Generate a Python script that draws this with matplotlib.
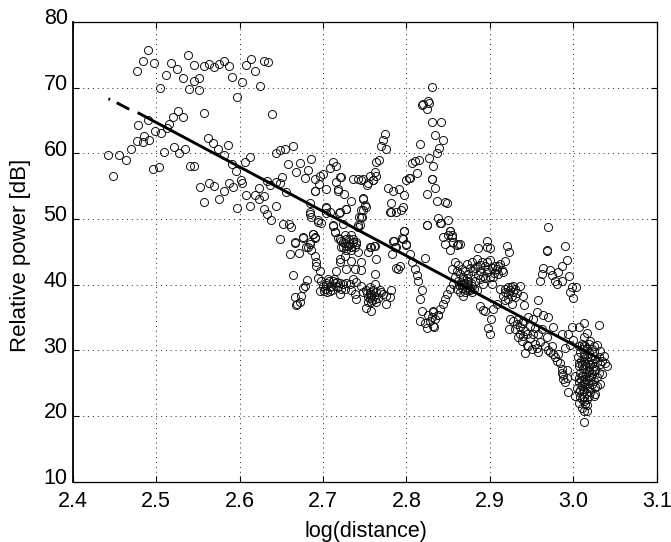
import numpy as np
import matplotlib
matplotlib.use("Agg")
import matplotlib.pyplot as plt
from matplotlib.transforms import ScaledTranslation

# (log distance, relative power dB), grouped by region
top_group = [(2.491,75.8),(2.484,74.1),(2.498,73.8),(2.477,72.5),(2.518,73.7),(2.525,72.9),(2.538,74.9),(2.545,73.5),
    (2.512,71.9),(2.532,71.4),(2.505,70.0),(2.539,69.8),(2.545,71.0),(2.551,71.4),(2.551,69.6),(2.557,73.3),
    (2.563,73.6),(2.569,73.2),(2.575,73.6),(2.581,74.0),(2.587,73.3),(2.591,71.6),(2.603,70.9),(2.597,68.6),
    (2.608,73.4),(2.614,74.4),(2.619,72.5),(2.624,70.2),(2.629,74.0),(2.634,73.9),(2.557,66.2),(2.639,66.0)]

left_group = [(2.526,66.4),(2.520,65.6),(2.532,65.5),(2.490,65.1),(2.478,64.3),(2.516,64.5),(2.513,63.9),(2.499,63.4),
    (2.506,63.1),(2.486,62.7),(2.477,61.9),(2.484,61.7),(2.492,62.1),(2.470,60.6),(2.456,59.8),(2.442,59.8),
    (2.464,59.0),(2.449,56.5),(2.522,61.0),(2.535,60.7),(2.510,60.2),(2.528,60.0),(2.497,57.6),(2.504,57.9),
    (2.541,58.0),(2.546,58.1),(2.562,62.3),(2.568,61.6),(2.574,60.6),(2.586,61.2),(2.581,59.8),(2.591,58.3),
    (2.596,57.3),(2.607,58.6),(2.613,59.4),(2.553,54.8),(2.564,55.4),(2.569,55.0),(2.587,55.5),(2.581,54.3),
    (2.592,54.8),(2.602,55.9),(2.603,55.5),(2.558,52.6),(2.575,53.1),(2.597,51.6),(2.608,53.7),(2.613,51.9),
    (2.618,53.6),(2.623,54.7),(2.623,53.0),(2.629,53.5),(2.629,51.5),(2.633,50.7),(2.638,49.9),(2.644,52.0),
    (2.633,55.8),(2.637,55.1),(2.644,55.6),(2.648,55.5),(2.651,56.4),(2.656,54.1),(2.644,60.0),(2.649,60.5),
    (2.654,60.6),(2.664,61.1),(2.658,58.4),(2.673,58.5),(2.686,59.1),(2.668,57.1),(2.678,56.3),(2.682,57.4),
    (2.690,56.1),(2.697,56.6),(2.700,56.9),(2.708,57.8),(2.712,58.6),(2.716,58.0),(2.721,56.4),(2.716,55.6),
    (2.695,55.3),(2.703,54.6),(2.691,54.3),(2.718,54.5),(2.725,53.8),(2.733,52.8),(2.736,56.1),(2.742,56.1),
    (2.684,52.5),(2.685,51.0),(2.686,50.3),(2.694,49.8),(2.698,49.4),(2.704,51.7),(2.708,51.0),(2.720,51.0),
    (2.727,51.5),(2.652,49.3),(2.659,49.2),(2.662,48.8),(2.648,46.9),(2.667,46.4),(2.676,47.1),(2.688,47.7),
    (2.690,47.1),(2.684,46.2),(2.680,45.7),(2.712,48.9),(2.714,48.0),(2.718,47.1),(2.722,46.6),(2.726,46.3),
    (2.731,47.0),(2.736,46.5),(2.728,45.8),(2.734,45.7),(2.740,46.2),(2.724,45.7),(2.742,48.8),(2.743,50.3)]

peak_group = [(2.830,70.1),(2.820,67.5),(2.826,68.0),(2.818,67.3),(2.824,66.7),(2.827,67.6),(2.831,64.7),(2.841,64.7),
    (2.834,62.8),(2.844,62.1),(2.839,60.8),(2.836,60.0),(2.816,61.4),(2.827,59.3),(2.832,58.1),(2.815,59.0),
    (2.810,58.9),(2.806,58.5),(2.812,57.0),(2.803,56.3),(2.800,56.0),(2.830,56.1),(2.834,54.7),(2.825,53.8),
    (2.836,52.8),(2.846,52.6),(2.848,52.5),(2.838,50.1),(2.850,49.8),(2.841,49.4),(2.824,49.0),(2.852,48.2),
    (2.844,47.2),(2.850,47.6),(2.855,47.3),(2.846,46.2),(2.860,46.1),(2.864,46.2),(2.774,63.0),(2.772,62.1),
    (2.770,61.1),(2.776,60.6),(2.767,59.0),(2.764,58.6),(2.762,57.2),(2.756,56.5),(2.760,55.9),(2.753,55.1),
    (2.746,55.9),(2.778,54.7),(2.784,54.3),(2.791,54.5),(2.797,53.7),(2.782,52.5),(2.781,51.0),(2.788,51.0),
    (2.794,51.4),(2.796,51.8),(2.748,53.2),(2.751,51.8),(2.746,51.3),(2.747,50.3),(2.744,49.0),(2.797,48.2),
    (2.795,47.1),(2.785,46.6),(2.800,46.2),(2.787,45.7),(2.761,45.9),(2.756,45.7),(2.897,46.6),(2.896,45.7),
    (2.886,45.5),(2.920,45.8),(2.970,48.7),(2.990,45.8),(2.968,45.2)]

band_40 = [(2.666,38.1),(2.669,37.1),(2.668,36.9),(2.672,37.3),(2.674,38.3),(2.664,41.5),(2.678,39.8),(2.681,40.7),
    (2.676,39.5),(2.694,41.0),(2.698,40.6),(2.700,39.8),(2.704,40.3),(2.708,39.6),(2.712,40.6),(2.716,39.8),
    (2.720,40.3),(2.724,40.1),(2.728,40.3),(2.732,40.1),(2.736,40.9),(2.740,40.4),(2.696,39.0),(2.708,39.0),
    (2.720,38.6),(2.714,40.2),(2.702,39.3),(2.706,40.9),(2.710,39.8),(2.718,39.6),(2.726,39.3),(2.734,39.1),
    (2.738,38.6),(2.740,37.8),(2.746,39.8),(2.748,38.8),(2.752,39.1),(2.756,38.8),(2.754,38.1),(2.758,38.3),
    (2.760,39.1),(2.762,37.8),(2.764,38.8),(2.768,39.1),(2.772,38.6),(2.776,38.3),(2.782,39.1),(2.780,38.1),
    (2.776,37.0),(2.752,36.5),(2.758,36.0),(2.754,37.3),(2.758,37.3),(2.756,39.6),(2.762,41.6),(2.762,40.1),
    (2.703,40.0),(2.707,40.5),(2.711,39.2),(2.713,40.9),(2.717,40.4),(2.701,39.0),(2.705,38.9),(2.722,39.3),
    (2.757,38.5),(2.761,38.2),(2.759,37.7),(2.763,37.3),(2.756,37.9),(2.766,38.0),(2.770,38.9),(2.753,38.7)]

mid_group = [(2.688,47.7),(2.690,47.2),(2.684,46.5),(2.682,45.7),(2.686,45.2),(2.690,44.4),(2.692,43.4),(2.692,42.9),
    (2.696,42.0),(2.666,46.5),(2.676,47.2),(2.661,44.6),(2.671,44.8),(2.720,47.0),(2.724,46.5),(2.728,47.0),
    (2.732,46.2),(2.736,47.0),(2.740,46.5),(2.726,47.5),(2.734,47.5),(2.730,45.9),(2.722,45.7),(2.738,45.7),
    (2.728,45.2),(2.734,45.2),(2.720,43.9),(2.726,44.4),(2.734,43.6),(2.746,43.4),(2.720,43.4),(2.728,42.3),
    (2.738,42.3),(2.745,42.2),(2.716,42.0),(2.742,44.9),(2.754,44.9),(2.758,45.7),(2.762,45.9),(2.764,43.9),
    (2.784,46.6),(2.786,45.7),(2.783,44.7),(2.797,48.2),(2.796,47.0),(2.800,46.1),(2.804,44.7),(2.806,43.4),
    (2.810,42.4),(2.812,41.4),(2.814,40.6),(2.818,39.2),(2.816,37.8),(2.822,44.1),(2.788,42.6),(2.792,42.9),
    (2.790,42.4),(2.824,49.0),(2.720,56.4),(2.718,54.3),(2.748,53.1),(2.750,52.1),(2.748,51.3),(2.746,50.3),
    (2.728,51.5),(2.719,50.9),(2.703,51.8),(2.690,54.2),(2.684,50.8),(2.694,49.6),(2.704,50.9),(2.712,49.0),
    (2.714,48.0),(2.724,49.3),(2.742,49.0),(2.748,56.1),(2.754,55.4),(2.760,55.9),(2.764,56.6),(2.804,56.3),
    (2.780,51.0),(2.830,56.1),(2.819,36.0),(2.826,35.4),(2.832,35.8),(2.816,34.5),(2.822,34.2),(2.828,34.5),
    (2.834,34.8),(2.824,33.4),(2.832,33.7),(2.838,35.3)]

blob_29 = [(2.840,49.4),(2.852,48.2),(2.854,47.5),(2.862,46.2),(2.852,45.3),(2.856,46.5),(2.858,43.4),(2.854,42.4),
    (2.866,42.4),(2.872,43.2),(2.878,43.4),(2.884,43.9),(2.890,43.4),(2.894,42.9),(2.900,43.7),(2.906,42.9),
    (2.912,43.2),(2.918,43.6),(2.916,41.9),(2.910,41.6),(2.904,41.1),(2.896,41.9),(2.888,42.1),(2.880,42.1),
    (2.874,41.6),(2.868,41.1),(2.862,40.6),(2.856,40.1),(2.852,39.3),(2.848,38.6),(2.846,37.8),(2.844,37.0),
    (2.840,36.3),(2.838,35.3),(2.832,36.0),(2.830,35.0),(2.833,33.6),(2.866,40.1),(2.872,39.6),(2.878,39.8),
    (2.868,38.3),(2.876,39.1),(2.884,39.1),(2.892,40.1),(2.902,40.1),(2.882,40.6),(2.888,40.9),(2.874,40.6),
    (2.864,41.6),(2.860,39.3),(2.912,39.3),(2.918,38.8),(2.924,39.1),(2.930,39.3),(2.936,39.8),(2.922,37.8),
    (2.930,38.1),(2.940,38.3),(2.918,37.6),(2.926,37.0),(2.928,39.8),(2.888,36.8),(2.894,36.0),(2.904,36.3),
    (2.908,37.0),(2.901,34.7),(2.898,33.4),(2.900,32.5),(2.892,36.1),(2.923,45.0),(2.900,45.6),(2.958,37.7),
    (2.941,36.9)]

knots = [(2.866,39.5),(2.869,40.3),(2.871,39.1),(2.873,40.1),(2.870,38.8),(2.875,39.4),(2.877,40.3),(2.868,40.9),
    (2.872,41.0),(2.863,40.0),(2.879,38.8),(2.864,38.9),(2.881,39.4),(2.870,42.0),(2.876,42.6),(2.882,42.5),
    (2.886,41.5),(2.885,42.9),(2.892,41.3),(2.898,42.4),(2.902,42.5),(2.905,41.8),(2.908,42.3),(2.910,42.8),
    (2.914,42.2),(2.900,41.2),(2.894,41.0),(2.888,43.0),(2.896,43.4),(2.858,41.2),(2.860,42.0),(2.862,43.0),
    (2.918,39.4),(2.922,38.5),(2.926,38.2),(2.928,38.8),(2.921,39.7),(2.932,38.7),(2.916,38.3),(2.925,39.6)]

right_arc = [(2.968,45.1),(2.992,43.8),(2.986,42.9),(2.964,42.6),(2.972,42.2),(2.962,41.6),(2.982,41.9),(2.974,41.4),
    (2.978,40.6),(2.980,40.1),(2.986,40.6),(2.960,40.6),(2.995,41.3),(2.998,39.7),(3.003,39.6),(2.996,38.8),
    (3.000,37.9)]

lower_diag = [(2.924,34.8),(2.928,34.5),(2.934,34.8),(2.940,34.5),(2.946,35.0),(2.952,34.8),(2.956,35.8),(2.964,35.3),
    (2.970,35.0),(2.976,33.5),(2.923,33.3),(2.930,33.2),(2.936,32.5),(2.942,33.0),(2.948,33.7),(2.958,32.5),
    (2.962,33.2),(2.968,32.0),(2.938,31.4),(2.946,30.7),(2.954,31.0),(2.942,29.5),(2.957,29.7),(2.966,30.7),
    (2.972,29.7),(2.978,28.9),(2.982,29.4),(2.986,32.5),(2.994,32.5),(2.998,33.6),(3.006,33.5),(3.012,34.2),
    (3.030,33.9),(3.016,32.6),(2.990,30.3),(2.984,28.1),(2.988,26.3),(2.992,25.8),(2.990,25.1),(2.988,25.6),
    (2.932,34.0),(2.936,33.6),(2.938,34.1),(2.934,32.0),(2.940,32.2),(2.944,32.4),(2.948,31.8),(2.952,32.4),
    (2.954,33.4),(2.956,30.4),(2.960,31.2),(2.950,30.2),(2.944,30.8),(2.970,30.0),(2.974,30.6),(2.976,29.4),
    (2.980,28.4),(2.986,27.2),(2.992,27.0),(2.986,26.6),(2.996,30.8),(3.000,31.6)]

dense_end = [(3.012,32.0),(3.020,31.4),(3.028,30.8),(3.006,30.7),(3.016,30.2),(3.024,29.7),(3.032,29.9),(3.012,29.4),
    (3.020,28.9),(3.005,28.9),(3.036,29.1),(3.026,28.6),(3.012,28.4),(3.020,27.9),(3.040,27.6),(3.006,27.6),
    (3.032,27.9),(3.014,27.1),(3.024,26.9),(3.002,26.1),(3.010,26.1),(3.018,26.1),(3.028,25.9),(3.034,26.4),
    (3.006,25.1),(3.014,24.8),(3.022,24.8),(3.032,24.8),(3.004,24.3),(3.012,23.8),(3.020,23.6),(3.026,23.3),
    (2.994,23.6),(3.002,23.1),(3.008,22.8),(3.016,22.6),(3.024,23.1),(3.006,22.0),(3.014,21.8),(3.012,20.8),
    (3.016,20.8),(3.012,19.0),(3.008,29.8),(3.016,28.8),(3.010,27.8),(3.018,27.4),(3.022,26.4),(3.008,26.6),
    (3.014,25.6),(3.020,25.4),(3.010,24.6),(3.016,24.2),(3.006,23.6),(3.018,23.0),(3.012,22.2),(3.010,21.2),
    (3.014,30.6),(3.022,30.2),(3.028,28.2),(3.018,29.6),(3.010,31.0),(3.024,27.6),(3.026,24.4),(3.014,27.9),
    (3.011,30.2),(3.013,29.1),(3.017,28.2),(3.009,28.3),(3.011,27.2),(3.015,26.5),(3.019,26.8),(3.007,25.8),
    (3.013,25.2),(3.017,25.0),(3.009,25.4),(3.011,24.1),(3.015,23.5),(3.019,24.3),(3.008,24.0),(3.013,22.9),
    (3.010,22.5),(3.016,21.6),(3.018,27.0),(3.022,28.0),(3.026,27.1),(3.021,25.9),(3.024,25.3),(3.028,24.6),
    (3.012,30.8),(3.018,31.0),(3.024,30.6),(3.030,29.0),(3.034,28.4),(3.038,28.0),(3.030,26.6),(3.006,28.0)]

point_groups = [top_group, left_group, peak_group, band_40, mid_group, blob_29, knots, right_arc, lower_diag, dense_end]

# fit line, broken up near its left end as in the scan
fit_x = [2.443, 2.445, np.nan, 2.453, 2.468, np.nan, 2.478, 3.032]
fit_y = [68.3, 68.2, np.nan, 67.7, 66.7, np.nan, 66.2, 28.65]

x_ticks = [2.4, 2.5, 2.6, 2.7, 2.8, 2.9, 3.0, 3.1]
y_ticks = [10, 20, 30, 40, 50, 60, 70, 80]

plt.rcParams['font.family'] = ['Liberation Sans', 'DejaVu Sans']

fig = plt.figure(figsize=(6.71, 5.42), dpi=100)
ax = fig.add_axes([72.5 / 671, 1 - 481.5 / 542, (657 - 72.5) / 671, (481.5 - 22) / 542])

points = np.array([p for group in point_groups for p in group])
ax.plot(points[:, 0], points[:, 1], linestyle='none', marker='o', markersize=5.8,
        markerfacecolor='none', markeredgecolor='#111111', markeredgewidth=0.7)
ax.plot(fit_x, fit_y, color='black', linewidth=2.1, solid_capstyle='butt')

ax.set_xlim(2.4, 3.1)
ax.set_ylim(10, 80)
ax.set_xticks(x_ticks)
ax.set_xticklabels([f"{v:.1f}" for v in x_ticks])
ax.set_yticks(y_ticks)
ax.grid(True, linestyle=(0, (1, 4)), color='#222222', linewidth=0.7)
ax.set_axisbelow(True)
ax.tick_params(direction='in', top=True, right=True, length=4.5, width=0.8, labelsize=15.5)
ax.tick_params(axis='x', pad=7)
ax.tick_params(axis='y', pad=3.5)
for spine in ax.spines.values():
    spine.set_linewidth(0.9)
ax.spines['left'].set_linewidth(1.3)

# y tick labels sit a little above their ticks in the reference
lift = ScaledTranslation(0, 4 / 72, fig.dpi_scale_trans)
for label in ax.get_yticklabels():
    label.set_transform(label.get_transform() + lift)

fig.text(366 / 671, 1 - 531 / 542, "log(distance)", fontsize=15.5, ha='center', va='center')
fig.text(21 / 671, 1 - 255 / 542, "Relative power [dB]", fontsize=16, rotation=90, ha='center', va='center')

fig.savefig("out.png", dpi=100)
